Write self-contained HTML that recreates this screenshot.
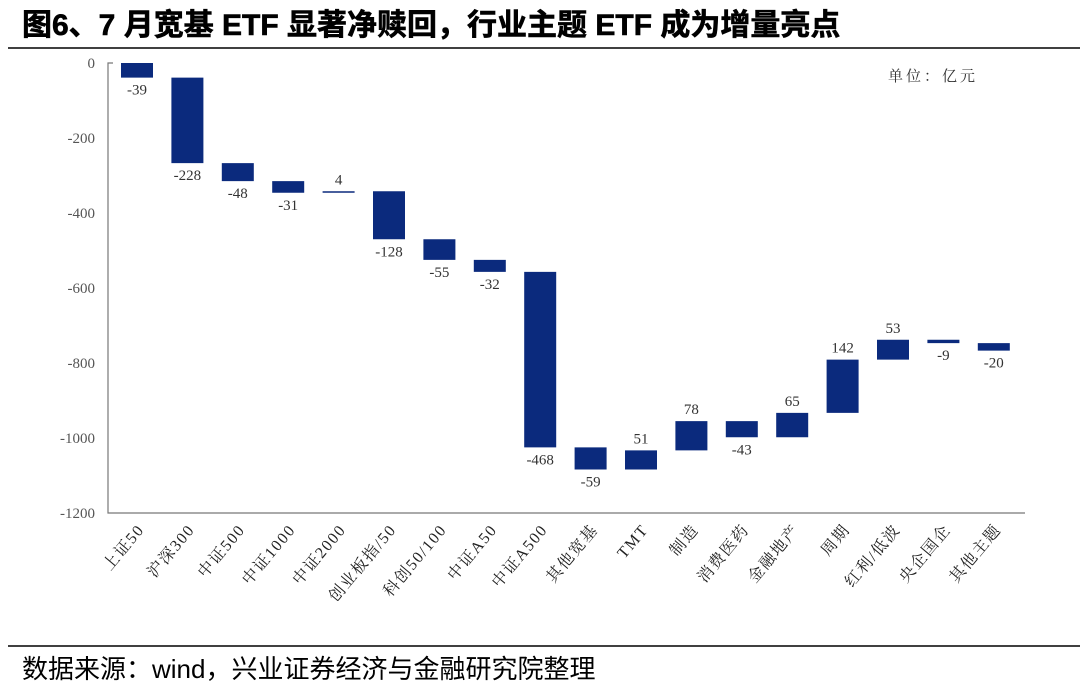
<!DOCTYPE html>
<html><head><meta charset="utf-8"><style>
body{margin:0;background:#fff;width:1080px;height:689px;overflow:hidden;font-family:"Liberation Sans","Noto Sans CJK SC",sans-serif;}
</style></head><body>
<svg width="1080" height="689" id="c">
<text x="22" y="35" font-size="30" font-weight="bold" fill="#000" stroke="#000" stroke-width="0.6" font-family="Liberation Sans, Noto Sans CJK SC, sans-serif">图6、7 月宽基 ETF 显著净赎回，行业主题 ETF 成为增量亮点</text>
<line x1="8" y1="48" x2="1080" y2="48" stroke="#000" stroke-width="1.5"/>
<text x="888" y="81" font-size="15" letter-spacing="3" fill="#333" font-family="Liberation Serif, Noto Serif CJK SC, serif">单位：亿元</text>
<line x1="8" y1="646" x2="1080" y2="646" stroke="#000" stroke-width="1.5"/>
<text x="22" y="678" font-size="26" fill="#000">数据来源：wind，兴业证券经济与金融研究院整理</text>
<g id="plot"></g>
</svg>
<script>
const categories=["上证50","沪深300","中证500","中证1000","中证2000","创业板指/50","科创50/100","中证A50","中证A500","其他宽基","TMT","制造","消费医药","金融地产","周期","红利/低波","央企国企","其他主题"];
const values=[-39,-228,-48,-31,4,-128,-55,-32,-468,-59,51,78,-43,65,142,53,-9,-20];
const yTicks=[0,-200,-400,-600,-800,-1000,-1200];
const NS="http://www.w3.org/2000/svg";
const g=document.getElementById('plot');
const y=v=>63+(-v)*450/1200;
const x0=137,step=50.4,bw=32;
const x=i=>x0+i*step;
function mk(t,a,txt){const e=document.createElementNS(NS,t);for(const k in a)e.setAttribute(k,a[k]);if(txt!=null)e.textContent=txt;g.appendChild(e);return e;}
let ax=mk('path',{d:'M113 63H108V513H1025',fill:'none',stroke:'#777','stroke-width':1.2});


yTicks.forEach(t=>{const e=mk('text',{x:95,y:y(t)+5,'text-anchor':'end','font-size':15,fill:'#555','font-family':'Liberation Serif, serif'},t);

});
let cum=0;
values.forEach((v,i)=>{const s=cum,e2=cum+v;cum=e2;
const top=y(Math.max(s,e2)),bot=y(Math.min(s,e2));
const r=mk('rect',{x:x(i)-bw/2,y:top,width:bw,height:Math.max(bot-top,1.2),fill:'#0b2a7d'});


const ly=v<0?bot+17:top-7;
const l=mk('text',{x:x(i),y:ly,'text-anchor':'middle','font-size':15,fill:'#333','font-family':'Liberation Serif, serif'},v);


const c=mk('text',{transform:`translate(${x(i)+8},530) rotate(-50)`,'text-anchor':'end','font-size':16,'letter-spacing':1.5,fill:'#222','font-family':'Liberation Serif, Noto Serif CJK SC, serif'},categories[i]);


});
</script>
</body></html>
